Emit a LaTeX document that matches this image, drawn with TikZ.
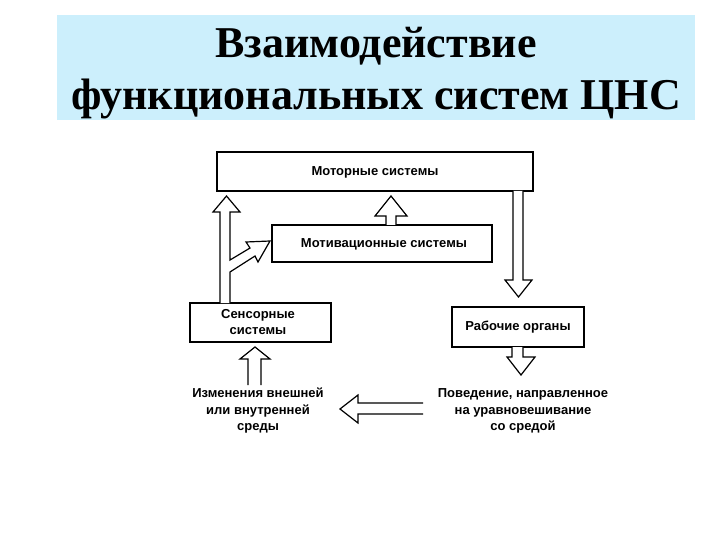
\documentclass[tikz,border=0pt]{standalone}
\usepackage{fontspec}
\setmainfont{Liberation Serif}
\newfontfamily\dsans{Liberation Sans}
\begin{document}
\begin{tikzpicture}[x=1pt,y=-1pt,
  box/.style={draw,line width=1.3pt,fill=white},
  lbl/.style={font=\dsans\bfseries\fontsize{13}{15}\selectfont,align=center},
  lbl3/.style={font=\dsans\bfseries\fontsize{13}{16.5}\selectfont,align=center},
  barrow/.style={draw,line width=1.2pt,fill=white,line join=miter}]
\useasboundingbox (0,0) rectangle (720,540);
\fill[white] (0,0) rectangle (720,540);
\fill[cyan!20!white] (57,15) rectangle (695,120);
\node[font=\bfseries\fontsize{44}{52}\selectfont,align=center] (title) at (376,73) {Взаимодействие\\функциональных систем ЦНС};
% boxes
\draw[box] (217,152) rectangle (533,191);
\node[lbl] (motor) at (375,172) {Моторные системы};
\draw[box] (272,225) rectangle (492,262);
\node[lbl] (motiv) at (384,244) {Мотивационные системы};
\draw[box] (190,303) rectangle (331,342);
\node[lbl3] (sens) at (258,322) {Сенсорные\\системы};
\draw[box] (452,307) rectangle (584,347);
\node[lbl] (rab) at (518,327) {Рабочие органы};
\node[lbl3] (izm) at (258,411) {Изменения внешней\\или внутренней\\среды};
\node[lbl3] (pov) at (523,411) {Поведение, направленное\\на уравновешивание\\со средой};
% sensor -> motor (with branch)
\draw[barrow] (220,303) -- (220,212) -- (213,212) -- (226.5,196) -- (240,212) -- (230,212) -- (230,260)
  -- (250,248) -- (246,242) -- (270,241) -- (258,262) -- (255,256) -- (230,272) -- (230,303);
% motiv -> motor
\draw[barrow] (386,225) -- (386,216) -- (375,216) -- (391,196) -- (407,216) -- (396,216) -- (396,225);
% motor -> rabochie
\draw[barrow] (513,191) -- (513,280) -- (505,280) -- (518.5,297) -- (532,280) -- (523,280) -- (523,191);
% rabochie -> behaviour
\draw[barrow] (512,347) -- (512,357) -- (507,357) -- (521,375) -- (535,357) -- (523,357) -- (523,347);
% environment -> sensor
\draw[barrow] (248,385) -- (248,359) -- (240,359) -- (255,347) -- (270,359) -- (261,359) -- (261,385);
% behaviour -> environment
\draw[barrow] (423,403) -- (358,403) -- (358,395) -- (340,409) -- (358,423) -- (358,414) -- (423,414);
\end{tikzpicture}
\end{document}
